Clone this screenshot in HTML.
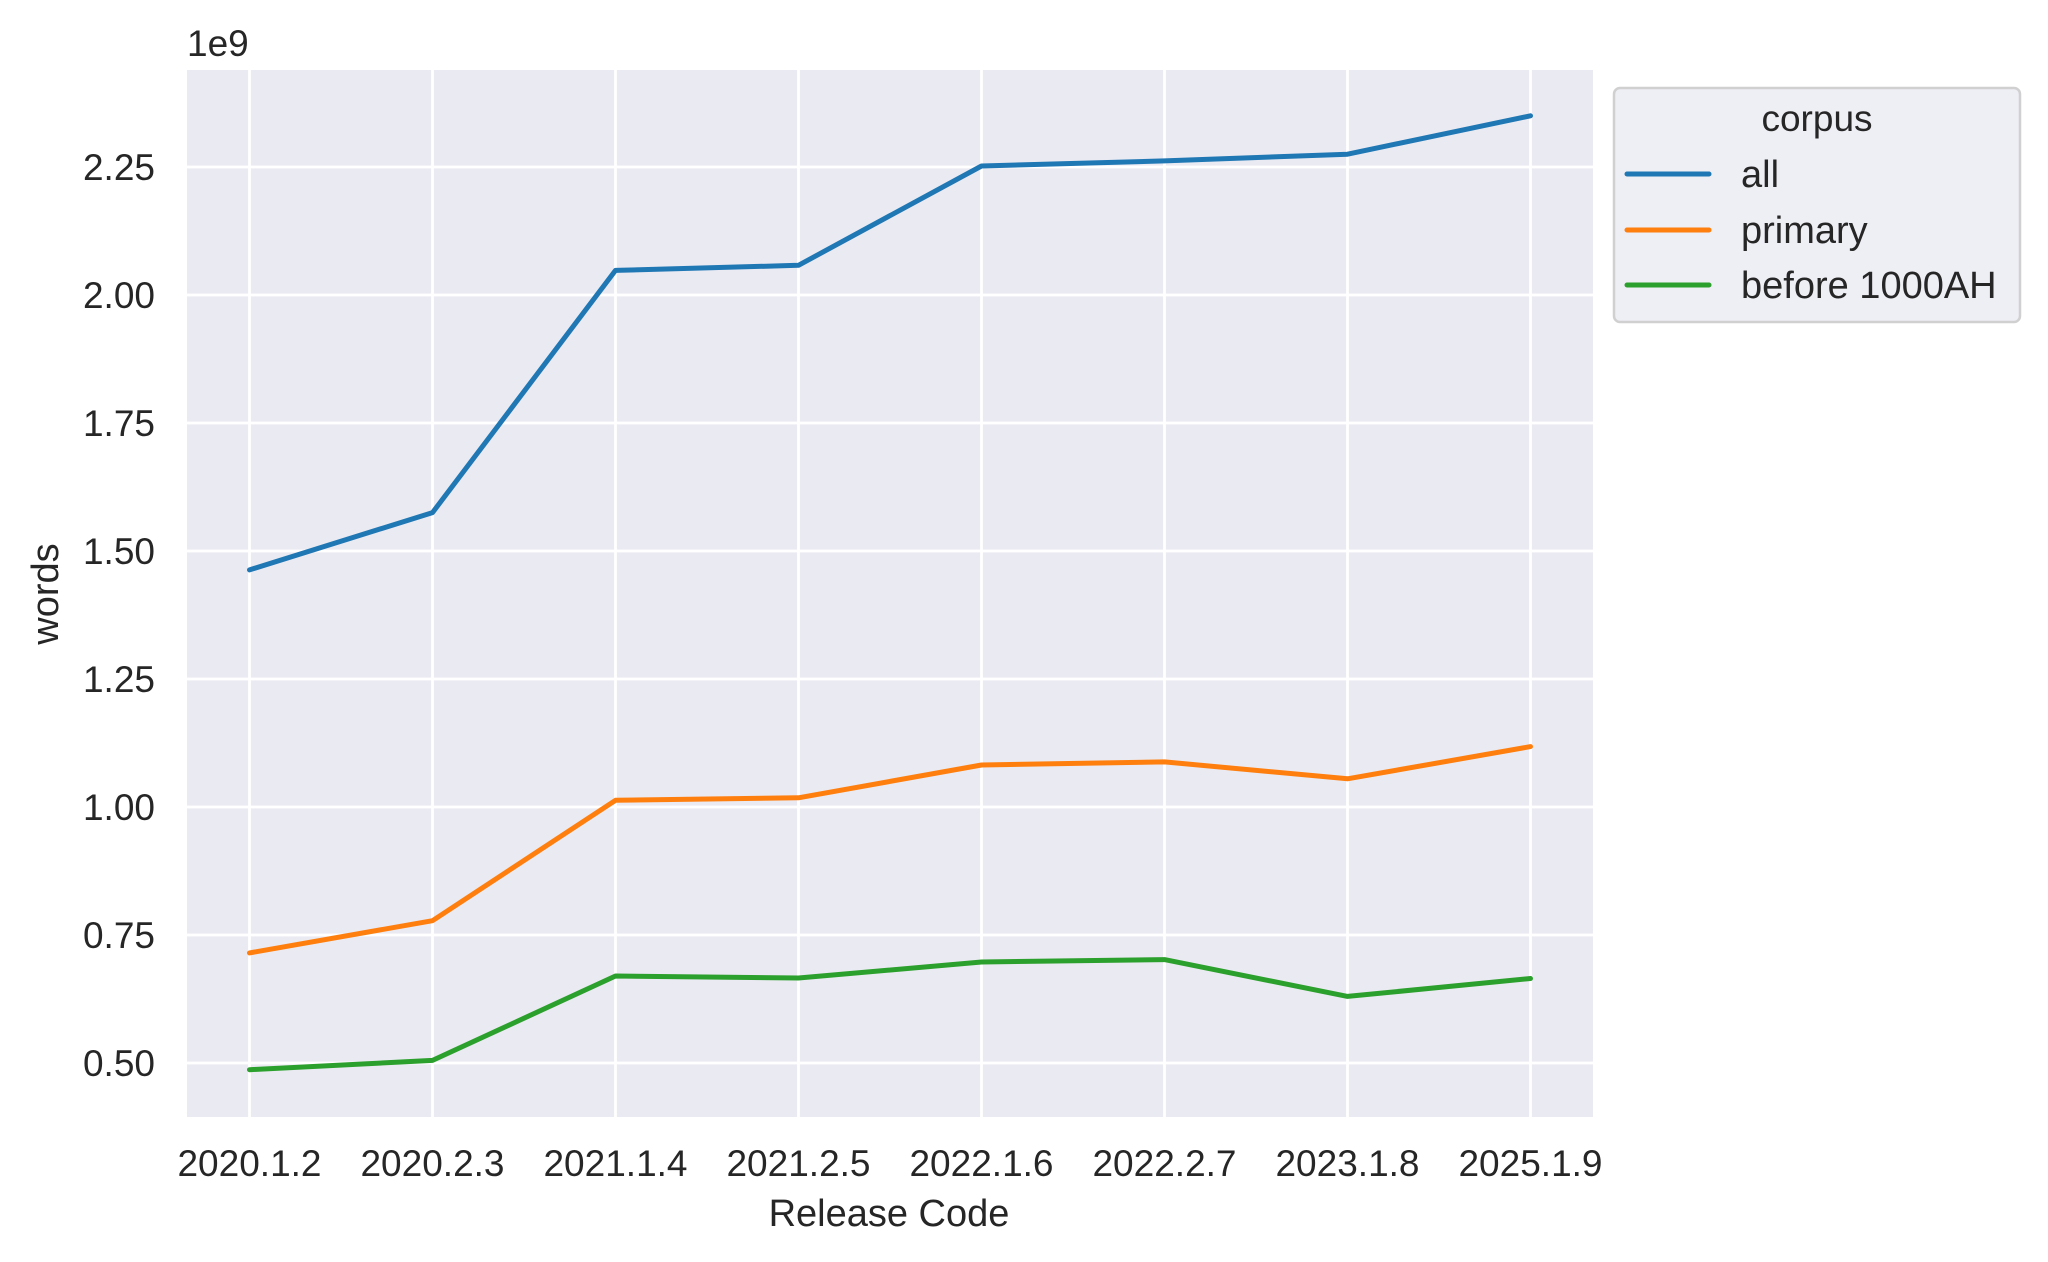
<!DOCTYPE html>
<html><head><meta charset="utf-8"><style>
html,body{margin:0;padding:0;background:#fff}
svg{display:block}
text{font-family:"Liberation Sans",Arial,sans-serif;fill:#262626}
</style></head><body>
<svg width="2048" height="1262" viewBox="0 0 2048 1262" xmlns="http://www.w3.org/2000/svg">
<rect x="187" y="70" width="1406" height="1047" fill="#eaeaf2"/>
<g stroke="#fff" stroke-width="2.8">
<line x1="187" x2="1593" y1="167" y2="167"/>
<line x1="187" x2="1593" y1="295" y2="295"/>
<line x1="187" x2="1593" y1="423" y2="423"/>
<line x1="187" x2="1593" y1="551" y2="551"/>
<line x1="187" x2="1593" y1="679" y2="679"/>
<line x1="187" x2="1593" y1="807" y2="807"/>
<line x1="187" x2="1593" y1="935" y2="935"/>
<line x1="187" x2="1593" y1="1063" y2="1063"/>
<line y1="70" y2="1117" x1="249.5" x2="249.5"/>
<line y1="70" y2="1117" x1="432.5" x2="432.5"/>
<line y1="70" y2="1117" x1="615.5" x2="615.5"/>
<line y1="70" y2="1117" x1="798.5" x2="798.5"/>
<line y1="70" y2="1117" x1="981.5" x2="981.5"/>
<line y1="70" y2="1117" x1="1164.5" x2="1164.5"/>
<line y1="70" y2="1117" x1="1347.5" x2="1347.5"/>
<line y1="70" y2="1117" x1="1530.5" x2="1530.5"/>
</g>
<g fill="none" stroke-width="5" stroke-linecap="round" stroke-linejoin="round">
<polyline stroke="#1f77b4" points="249.5,569.9 432.5,512.6 615.5,270.4 798.5,265.3 981.5,166 1164.5,160.9 1347.5,154.2 1530.5,115.8"/>
<polyline stroke="#ff7f0e" points="249.5,952.9 432.5,920.7 615.5,800.3 798.5,797.8 981.5,765 1164.5,761.9 1347.5,778.8 1530.5,746.6"/>
<polyline stroke="#2ca02c" points="249.5,1069.7 432.5,1060.4 615.5,976 798.5,978 981.5,962 1164.5,959.6 1347.5,996.4 1530.5,978.5"/>
</g>
<g font-size="37" text-anchor="end">
<text x="155" y="180">2.25</text>
<text x="155" y="308">2.00</text>
<text x="155" y="436">1.75</text>
<text x="155" y="564">1.50</text>
<text x="155" y="692">1.25</text>
<text x="155" y="820">1.00</text>
<text x="155" y="948">0.75</text>
<text x="155" y="1076">0.50</text>
</g>
<g font-size="37" text-anchor="middle">
<text x="249.5" y="1176">2020.1.2</text>
<text x="432.5" y="1176">2020.2.3</text>
<text x="615.5" y="1176">2021.1.4</text>
<text x="798.5" y="1176">2021.2.5</text>
<text x="981.5" y="1176">2022.1.6</text>
<text x="1164.5" y="1176">2022.2.7</text>
<text x="1347.5" y="1176">2023.1.8</text>
<text x="1530.5" y="1176">2025.1.9</text>
<text x="889" y="1226" font-size="38">Release Code</text>
<text transform="translate(58,594) rotate(-90)" font-size="38">words</text>
</g>
<text x="187" y="56" font-size="37">1e9</text>
<rect x="1614" y="88" width="406" height="234" rx="6" fill="#eaeaf2" fill-opacity="0.8" stroke="#d0d0d0" stroke-width="2.5"/>
<text x="1817" y="131" font-size="37" text-anchor="middle">corpus</text>
<g stroke-width="5" stroke-linecap="round">
<line x1="1627" x2="1709" y1="174" y2="174" stroke="#1f77b4"/>
<line x1="1627" x2="1709" y1="230" y2="230" stroke="#ff7f0e"/>
<line x1="1627" x2="1709" y1="285" y2="285" stroke="#2ca02c"/>
</g>
<g font-size="38">
<text x="1741" y="187">all</text>
<text x="1741" y="243">primary</text>
<text x="1741" y="298">before 1000AH</text>
</g>
</svg>
</body></html>
